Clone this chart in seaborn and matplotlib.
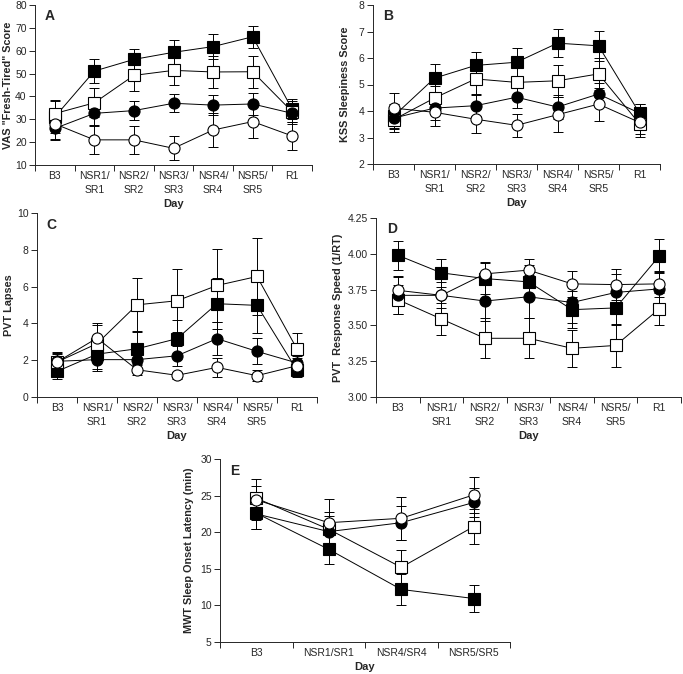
import numpy as np
import pandas as pd
import seaborn as sns
import matplotlib
matplotlib.use('Agg')
import matplotlib.pyplot as plt

# categories
days7 = ['B3', 'NSR1/\nSR1', 'NSR2/\nSR2', 'NSR3/\nSR3', 'NSR4/\nSR4', 'NSR5/\nSR5', 'R1']
days4 = ['B3', 'NSR1/SR1', 'NSR4/SR4', 'NSR5/SR5']

# series order: filled square, open square, filled circle, open circle
vas_fsq = [31.0, 51.1, 56.2, 59.3, 61.8, 66.1, 34.4]
vas_fsq_err = [7.0, 5.3, 4.7, 5.4, 5.4, 4.7, 4.3]
vas_osq = [32.5, 37.2, 49.2, 51.4, 50.7, 50.8, 33.3]
vas_osq_err = [6.0, 6.3, 7.0, 6.5, 7.0, 7.0, 4.5]
vas_fci = [26.0, 32.6, 33.8, 37.0, 36.2, 36.7, 32.6]
vas_fci_err = [5.0, 5.0, 4.2, 4.0, 4.5, 5.0, 4.5]
vas_oci = [28.0, 21.0, 21.0, 17.3, 25.3, 29.0, 22.7]
vas_oci_err = [6.5, 6.2, 6.2, 5.2, 7.3, 7.2, 6.0]

kss_fsq = [3.80, 5.24, 5.72, 5.84, 6.56, 6.46, 3.92]
kss_fsq_err = [0.45, 0.54, 0.50, 0.53, 0.54, 0.56, 0.35]
kss_osq = [3.67, 4.49, 5.21, 5.08, 5.14, 5.40, 3.52]
kss_osq_err = [0.45, 0.45, 0.55, 0.55, 0.60, 0.60, 0.40]
kss_fci = [3.73, 4.11, 4.20, 4.52, 4.15, 4.64, 3.92]
kss_fci_err = [0.40, 0.45, 0.40, 0.40, 0.45, 0.40, 0.35]
kss_oci = [4.11, 3.95, 3.69, 3.46, 3.86, 4.26, 3.57]
kss_oci_err = [0.56, 0.50, 0.52, 0.44, 0.67, 0.62, 0.55]

pvt_fsq = [1.39, 2.33, 2.62, 3.17, 5.07, 4.98, 1.45]
pvt_fsq_err = [0.40, 0.90, 0.90, 1.00, 1.40, 1.50, 0.35]
pvt_osq = [1.90, 2.90, 5.01, 5.23, 6.06, 6.55, 2.61]
pvt_osq_err = [0.50, 1.00, 1.45, 1.70, 2.00, 2.10, 0.85]
pvt_fci = [1.94, 2.03, 2.03, 2.24, 3.17, 2.48, 1.85]
pvt_fci_err = [0.50, 0.50, 0.50, 0.55, 0.90, 0.70, 0.40]
pvt_oci = [1.90, 3.20, 1.48, 1.18, 1.61, 1.16, 1.70]
pvt_oci_err = [0.45, 0.80, 0.30, 0.20, 0.50, 0.30, 0.40]

spd_fsq = [3.99, 3.867, 3.827, 3.804, 3.61, 3.622, 3.984]
spd_fsq_err = [0.10, 0.10, 0.11, 0.12, 0.13, 0.12, 0.12]
spd_osq = [3.68, 3.545, 3.41, 3.41, 3.34, 3.36, 3.615]
spd_osq_err = [0.10, 0.11, 0.14, 0.14, 0.13, 0.15, 0.11]
spd_fci = [3.71, 3.71, 3.67, 3.70, 3.66, 3.73, 3.755]
spd_fci_err = [0.13, 0.12, 0.14, 0.15, 0.14, 0.13, 0.12]
spd_oci = [3.745, 3.71, 3.86, 3.886, 3.79, 3.785, 3.79]
spd_oci_err = [0.10, 0.09, 0.08, 0.08, 0.09, 0.11, 0.09]

mwt_fsq = [22.6, 17.66, 12.18, 10.94]
mwt_fsq_err = [2.2, 2.06, 2.1, 1.8]
mwt_osq = [24.65, 20.4, 15.2, 20.77]
mwt_osq_err = [1.6, 2.3, 2.4, 2.4]
mwt_fci = [22.5, 20.08, 21.3, 24.06]
mwt_fci_err = [2.0, 2.2, 2.3, 2.0]
mwt_oci = [24.42, 21.3, 21.9, 25.1]
mwt_oci_err = [2.8, 3.2, 2.9, 2.5]

sns.set_style('ticks')
plt.rcParams['font.family'] = ['Liberation Sans', 'DejaVu Sans']
plt.rcParams['font.size'] = 7.5

styles = [('s', 'black'), ('s', 'white'), ('o', 'black'), ('o', 'white')]

W, H = 683, 674


def panel(fig, box, label_x, days, series, ylim, yticks, ylabel, letter, fmt='{:g}'):
    l, r, t, b = box
    ax = fig.add_axes([l / W, (H - b) / H, (r - l) / W, (b - t) / H])
    x = np.arange(len(days))
    for (vals, errs), (mk, face) in zip(series, styles):
        df = pd.DataFrame({'x': x, 'y': vals})
        ax.errorbar(x, vals, yerr=errs, fmt='none', ecolor='black',
                    elinewidth=0.7, capsize=3.5, capthick=0.7, zorder=2)
        sns.lineplot(data=df, x='x', y='y', ax=ax, color='black', lw=0.7,
                     marker=mk, markersize=8, markerfacecolor=face,
                     markeredgecolor='black', markeredgewidth=0.8, zorder=3)
    ax.set_xlim(-0.5, len(days) - 0.5)
    ax.set_ylim(*ylim)
    ax.set_xticks(x)
    ax.set_xticklabels(days, fontsize=7.5, linespacing=1.45)
    ax.tick_params(axis='x', which='major', length=0, pad=4.5)
    ax.set_xticks(np.arange(len(days) + 1) - 0.5, minor=True)
    ax.tick_params(axis='x', which='minor', length=4, width=0.7, direction='out')
    ax.set_yticks(yticks)
    ax.set_yticklabels([fmt.format(v) for v in yticks], fontsize=7.5)
    ax.tick_params(axis='y', length=4, width=0.7, direction='out', pad=2)
    for s in ['left', 'bottom']:
        ax.spines[s].set_linewidth(0.7)
    sns.despine(ax=ax)
    ax.set_xlabel('Day', fontweight='bold', fontsize=8, labelpad=3)
    ax.set_ylabel(ylabel, fontweight='bold', fontsize=7.8)
    # label_x is the pixel column of the label's lower (right-hand) edge
    ax.yaxis.set_label_coords((label_x - l) / (r - l), 0.5)
    ax.text(0.035, 0.975, letter, transform=ax.transAxes, fontsize=10,
            fontweight='bold', va='top', ha='left')
    return ax


fig = plt.figure(figsize=(W / 100, H / 100), dpi=100)

panel(fig, (35, 312, 5, 165), 13, days7,
      [(vas_fsq, vas_fsq_err), (vas_osq, vas_osq_err), (vas_fci, vas_fci_err), (vas_oci, vas_oci_err)],
      (10, 80), np.arange(10, 81, 10), 'VAS "Fresh-Tired" Score', 'A')
panel(fig, (373, 660, 5, 164), 350, days7,
      [(kss_fsq, kss_fsq_err), (kss_osq, kss_osq_err), (kss_fci, kss_fci_err), (kss_oci, kss_oci_err)],
      (2, 8), np.arange(2, 9, 1), 'KSS Sleepiness Score', 'B')
panel(fig, (37, 317, 213, 397), 14, days7,
      [(pvt_fsq, pvt_fsq_err), (pvt_osq, pvt_osq_err), (pvt_fci, pvt_fci_err), (pvt_oci, pvt_oci_err)],
      (0, 10), np.arange(0, 11, 2), 'PVT Lapses', 'C')
panel(fig, (376, 681, 218, 397), 343, days7,
      [(spd_fsq, spd_fsq_err), (spd_osq, spd_osq_err), (spd_fci, spd_fci_err), (spd_oci, spd_oci_err)],
      (3.0, 4.25), np.arange(3.0, 4.26, 0.25), 'PVT  Response Speed (1/RT)', 'D', fmt='{:.2f}')
panel(fig, (220, 510, 459, 642), 194, days4,
      [(mwt_fsq, mwt_fsq_err), (mwt_osq, mwt_osq_err), (mwt_fci, mwt_fci_err), (mwt_oci, mwt_oci_err)],
      (5, 30), np.arange(5, 31, 5), 'MWT Sleep Onset Latency (min)', 'E')

fig.savefig('out.png', dpi=100)
